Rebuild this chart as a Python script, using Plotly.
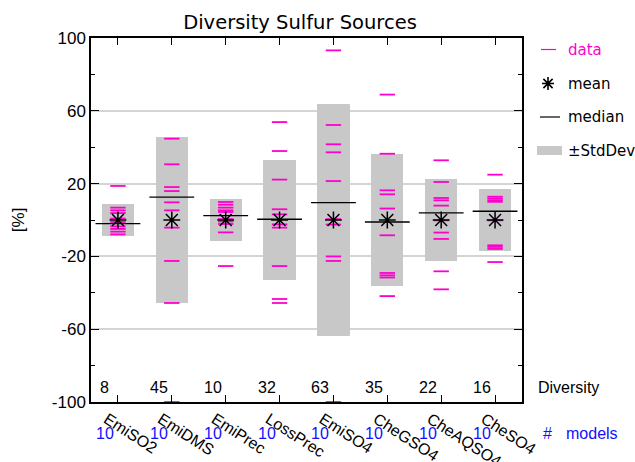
import plotly.graph_objects as go

# ---------------- data ----------------
categories = ["EmiSO2", "EmiDMS", "EmiPrec", "LossPrec", "EmiSO4", "CheGSO4", "CheAQSO4", "CheSO4"]
diversity = [8, 45, 10, 32, 63, 35, 22, 16]
n_models = [10, 10, 10, 10, 10, 10, 10, 10]
mean_vals = [0, 0, 0, 0, 0, 0, 0, 0]
std_vals = [9.0, 45.7, 11.3, 33.2, 63.8, 36.2, 22.6, 17.1]
median_vals = [-2.0, 12.6, 2.4, 0.4, 9.5, -1.1, 3.9, 4.8]

emiso2 = [18.7, 6.8, 5.3, 3.8, 0.8, -1.1, -3.5, -4.9, -6.4, -7.9]
emidms = [44.7, 30.6, 18.1, 15.9, 9.7, 5.3, -4.2, -22.5, -45.6, -100.0]
emiprec = [9.9, 8.4, 6.8, 5.3, 4.4, 0.5, -0.8, -2.2, -6.8, -25.3]
lossprec = [53.8, 37.9, 22.2, 5.9, 3.1, -2.4, -4.2, -25.3, -43.4, -45.6]
emiso4 = [93.2, 52.2, 41.6, 37.2, 21.4, 0.5, -2.5, -20.0, -22.5, -100.0]
chegso4 = [68.9, 36.4, 16.3, 14.1, 6.3, -8.4, -29.1, -30.4, -31.6, -41.8]
cheaqso4 = [32.8, 20.9, 12.1, 10.8, 7.9, -0.2, -6.9, -10.4, -28.2, -38.1]
cheso4 = [24.9, 12.8, 11.8, 10.8, 10.0, -0.2, -13.9, -14.8, -15.9, -23.1]
data_sets = [emiso2, emidms, emiprec, lossprec, emiso4, chegso4, cheaqso4, cheso4]

y_tick_vals = [-100, -60, -20, 20, 60, 100]
y_tick_text = ["-100", "-60", "-20", "20", "60", "100"]

# ---------------- style ----------------
MAGENTA = "#ff00cc"
BOXGRAY = "#c8c8c8"
BLUE = "#1010ff"
AXFONT = "Liberation Sans, Arial, sans-serif"
LGFONT = "DejaVu Sans, sans-serif"

xpos = list(range(len(categories)))

fig = go.Figure()

# +/- StdDev boxes
fig.add_trace(go.Bar(
    x=xpos,
    y=[2 * s for s in std_vals],
    base=[m - s for m, s in zip(mean_vals, std_vals)],
    width=0.6,
    marker=dict(color=BOXGRAY, line=dict(width=0)),
    showlegend=False, hoverinfo="skip",
))

# medians
fig.add_trace(go.Scatter(
    x=xpos, y=median_vals, mode="markers",
    marker=dict(symbol="line-ew", size=32, color="black",
                line=dict(color="black", width=1.3)),
    showlegend=False, hoverinfo="skip",
))

# data dashes
xs, ys = [], []
for i, vals in zip(xpos, data_sets):
    for v in vals:
        xs.append(i)
        ys.append(v)
fig.add_trace(go.Scatter(
    x=xs, y=ys, mode="markers", cliponaxis=False,
    marker=dict(symbol="line-ew", size=11, color=MAGENTA,
                line=dict(color=MAGENTA, width=1.8)),
    showlegend=False, hoverinfo="skip",
))

# means
fig.add_trace(go.Scatter(
    x=xpos, y=mean_vals, mode="markers",
    marker=dict(symbol="asterisk-open", size=14, color="black",
                line=dict(color="black", width=1.5)),
    showlegend=False, hoverinfo="skip",
))

def px_x(px):
    return (px - 91) / 431.0

def px_y(py):
    return (401.5 - py) / 364.0

def note(x, y, text, color="black", family=AXFONT, size=16, xref="paper",
         xanchor="left", xshift=0, angle=0):
    return dict(x=x, y=y, xref=xref, yref="paper", text=text, showarrow=False,
                xanchor=xanchor, yanchor="middle", xshift=xshift, textangle=angle,
                font=dict(family=family, size=size, color=color))

annotations = []
# diversity numbers and number of models
for i, d, n in zip(xpos, diversity, n_models):
    annotations.append(note(i, px_y(386.7), str(d), xref="x", xanchor="center", xshift=-13))
    annotations.append(note(i, px_y(432.7), str(n), color=BLUE, xref="x",
                            xanchor="center", xshift=-13))

annotations += [
    note(px_x(536), px_y(386.7), "Diversity"),
    note(px_x(541), px_y(432.7), "#", color=BLUE),
    note(px_x(564), px_y(432.7), "models", color=BLUE),
    # legend texts
    note(px_x(566), px_y(49), "data", color=MAGENTA, family=LGFONT, size=15),
    note(px_x(566), px_y(83), "mean", family=LGFONT, size=15),
    note(px_x(566), px_y(116.5), "median", family=LGFONT, size=15),
    note(px_x(566), px_y(150), "±StdDev", family=LGFONT, size=15),
    # y axis title
    note(px_x(18), px_y(219.7), "[%]", size=17, xanchor="center", angle=-90),
]

star_path = ("M-6,0L6,0M0,-6.5L0,6.5M-4.6,-4.6L4.6,4.6M-4.6,4.6L4.6,-4.6")
shapes = [
    dict(type="line", xref="paper", yref="paper", x0=px_x(541), x1=px_x(556),
         y0=px_y(49), y1=px_y(49), line=dict(color=MAGENTA, width=1.2)),
    dict(type="line", xref="paper", yref="paper", x0=px_x(540), x1=px_x(560),
         y0=px_y(116.5), y1=px_y(116.5), line=dict(color="black", width=1.2)),
    dict(type="rect", xref="paper", yref="paper", x0=px_x(537), x1=px_x(562),
         y0=px_y(154.5), y1=px_y(145.5), line=dict(width=0), fillcolor=BOXGRAY),
    # legend asterisk glyph
    dict(type="path", xref="paper", yref="paper", xsizemode="pixel", ysizemode="pixel",
         xanchor=px_x(548), yanchor=px_y(83), path=star_path,
         line=dict(color="black", width=1.6)),
]

fig.update_layout(
    width=635, height=462,
    margin=dict(l=91, r=113, t=38, b=60, pad=0),
    paper_bgcolor="white", plot_bgcolor="white",
    title=dict(text="Diversity Sulfur Sources", x=(300 / 635.0), xanchor="center",
               y=1 - 22 / 462.0, yanchor="middle",
               font=dict(family=LGFONT, size=19.5, color="black")),
    showlegend=False,
    annotations=annotations,
    shapes=shapes,
    bargap=0,
)

fig.update_xaxes(
    range=[-0.5, 7.5], automargin=False,
    tickvals=xpos, ticktext=categories,
    showgrid=False, zeroline=False,
    showline=True, linecolor="black", linewidth=1.5, mirror="ticks",
    ticks="inside", ticklen=7, tickwidth=1.2, tickcolor="black",
    tickangle=33, ticklabelshift=-11, ticklabelstandoff=0,
    tickfont=dict(family=AXFONT, size=16, color="black"),
)

fig.update_yaxes(
    range=[-100, 100], automargin=False,
    tickvals=y_tick_vals, ticktext=y_tick_text,
    showgrid=True, gridcolor="#d4d4d4", gridwidth=1.5,
    zeroline=False,
    showline=True, linecolor="black", linewidth=1.5, mirror="ticks",
    ticks="inside", ticklen=8, tickwidth=1.2, tickcolor="black",
    minor=dict(dtick=20, tick0=0, ticks="inside", ticklen=4, tickcolor="black", showgrid=False),
    tickfont=dict(family=AXFONT, size=17, color="black"),
)

fig.write_html("out.html",
               config={"displayModeBar": False},
               post_script="document.body.style.margin='0';document.body.style.overflow='hidden';")
